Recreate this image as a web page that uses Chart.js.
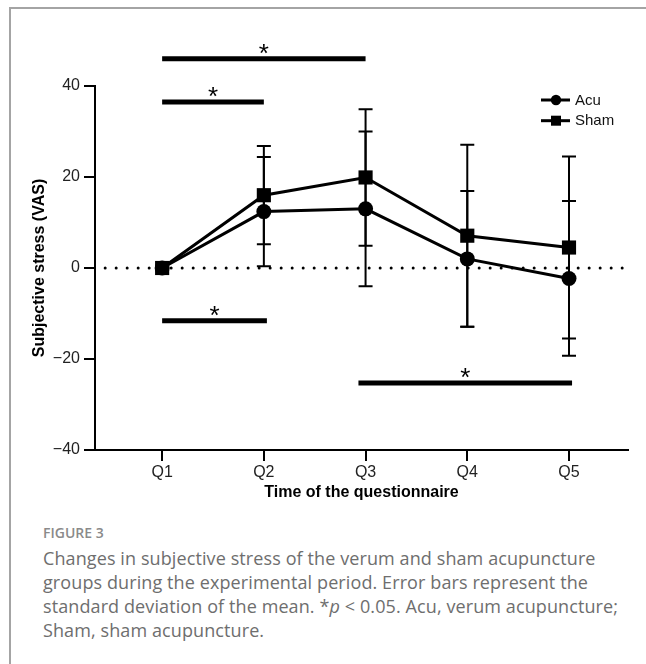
<!DOCTYPE html>
<html><head><meta charset="utf-8">
<script src="https://cdn.jsdelivr.net/npm/chart.js@4"></script>
<style>
html,body{margin:0;padding:0;background:#fff;}
body{width:646px;height:664px;position:relative;overflow:hidden;}
#frame{position:absolute;left:9px;top:7px;width:660px;height:680px;border-left:2px solid #a4a4a4;border-top:2px solid #a4a4a4;}
#wrap{position:absolute;left:0;top:0;width:646px;height:510px;}
.cap{position:absolute;left:43px;font-family:"Open Sans",sans-serif;color:#6e6e6e;white-space:nowrap;}
#fig{top:523px;font-size:14px;line-height:20px;font-weight:600;color:#8a8a8a;}
#txt{top:546px;font-size:18px;line-height:24px;letter-spacing:0.1px;}
</style></head>
<body>
<div id="frame"></div>
<div id="wrap"><canvas id="c" width="646" height="510"></canvas></div>
<div class="cap" id="fig">FIGURE 3</div>
<div class="cap" id="txt">Changes in subjective stress of the verum and sham acupuncture<br>groups during the experimental period. Error bars represent the<br>standard deviation of the mean. *<i>p</i> &lt; 0.05. Acu, verum acupuncture;<br>Sham, sham acupuncture.</div>
<script>
const categories = ['Q1','Q2','Q3','Q4','Q5'];
const xPositions = [1,2,3,4,5];
const acuMean = [0, 12.4, 13.0, 2.0, -2.3];
const acuSD = [0, 12.0, 17.0, 14.9, 17.0];
const shamMean = [0, 16.0, 19.9, 7.1, 4.5];
const shamSD = [0, 10.8, 15.0, 20.0, 20.0];
const yTicks = [-40,-20,0,20,40];
const yTickLabels = ['\u221240','\u221220','0','20','40'];
const sigStart = [1, 1, 1, 2.93];
const sigEnd = [3, 2, 2.03, 5.03];
const sigLevel = [46.0, 36.5, -11.6, -25.3];
const sigLabel = ['*','*','*','*'];
const zeroLineRange = [0.44, 5.57];
const seriesNames = ['Acu','Sham'];

const FONT = '"Liberation Sans", Arial, sans-serif';
const toPts = (xs, ys) => xs.map((x,i)=>({x:x, y:ys[i]}));

const datasets = [];
datasets.push({
  label:'zero', data:[{x:zeroLineRange[0],y:0},{x:zeroLineRange[1],y:0}],
  borderColor:'#000', borderWidth:3, borderDash:[0,11], borderCapStyle:'round',
  pointRadius:0, fill:false, order:5
});
sigStart.forEach((s,i)=>{
  datasets.push({label:'sig'+i, data:[{x:s,y:sigLevel[i]},{x:sigEnd[i],y:sigLevel[i]}],
    borderColor:'#000', borderWidth:5, borderCapStyle:'butt', pointRadius:0, clip:false, fill:false, order:4});
});
datasets.push({label:seriesNames[0], data:toPts(xPositions, acuMean), borderColor:'#000', backgroundColor:'#000',
  borderWidth:3, pointStyle:'circle', pointRadius:7.5, pointBackgroundColor:'#000', pointBorderWidth:0, order:1, sd:acuSD});
datasets.push({label:seriesNames[1], data:toPts(xPositions, shamMean), borderColor:'#000', backgroundColor:'#000',
  borderWidth:3, pointStyle:'rect', pointRadius:10, pointBackgroundColor:'#000', pointBorderWidth:0, order:2, sd:shamSD});

const overlay = {
  id:'overlay',
  beforeDatasetsDraw(chart){
    const ctx = chart.ctx, xs = chart.scales.x, ys = chart.scales.y;
    ctx.save();
    ctx.strokeStyle = '#000'; ctx.lineWidth = 2;
    chart.data.datasets.forEach(ds=>{
      if(!ds.sd) return;
      ds.data.forEach((p,i)=>{
        const sd = ds.sd[i]; if(!sd) return;
        const px = xs.getPixelForValue(p.x);
        const yt = ys.getPixelForValue(p.y+sd), yb = ys.getPixelForValue(p.y-sd);
        ctx.beginPath();
        ctx.moveTo(px, yt); ctx.lineTo(px, yb);
        ctx.moveTo(px-7, yt); ctx.lineTo(px+7, yt);
        ctx.moveTo(px-7, yb); ctx.lineTo(px+7, yb);
        ctx.stroke();
      });
    });
    ctx.restore();
  },
  afterDraw(chart){
    const ctx = chart.ctx, xs = chart.scales.x, ys = chart.scales.y, ca = chart.chartArea;
    ctx.save();
    // stars
    ctx.fillStyle = '#000';
    ctx.font = '26px ' + FONT;
    ctx.textAlign = 'center'; ctx.textBaseline = 'alphabetic';
    sigLabel.forEach((t,i)=>{
      const cx = xs.getPixelForValue((sigStart[i]+sigEnd[i])/2);
      const by = ys.getPixelForValue(sigLevel[i]);
      const m = ctx.measureText(t);
      const h = m.actualBoundingBoxAscent + m.actualBoundingBoxDescent;
      const centerTarget = by - 10;
      ctx.fillText(t, cx, centerTarget + m.actualBoundingBoxAscent - h/2);
    });
    // legend
    const lx0 = ca.right - 87, lx1 = ca.right - 58, mx = ca.right - 72;
    const rows = [ca.top + 14, ca.top + 34.7];
    ctx.strokeStyle = '#000'; ctx.lineWidth = 3;
    ctx.font = '15px ' + FONT; ctx.textAlign = 'left'; ctx.textBaseline = 'middle';
    seriesNames.forEach((n,i)=>{
      const y = rows[i];
      ctx.beginPath(); ctx.moveTo(lx0, y); ctx.lineTo(lx1, y); ctx.stroke();
      if(i===0){ ctx.beginPath(); ctx.arc(mx, y, 5.2, 0, Math.PI*2); ctx.fill(); }
      else { ctx.fillRect(mx-5, y-5, 10, 10); }
      ctx.fillStyle = '#111';
      ctx.fillText(n, ca.right - 53, y+0.5);
      ctx.fillStyle = '#000';
    });
    ctx.restore();
  }
};

new Chart(document.getElementById('c'), {
  type:'line',
  data:{datasets:datasets},
  options:{
    responsive:false, animation:false,
    layout:{padding:{left:0, top:86, right:18, bottom:0}},
    plugins:{legend:{display:false}, tooltip:{enabled:false}},
    scales:{
      x:{
        type:'linear', min:0.34, max:5.58,
        afterBuildTicks(s){ s.ticks = xPositions.map(v=>({value:v})); },
        afterFit(s){ s.height = 60; },
        ticks:{autoSkip:false, maxRotation:0, color:'#222', padding:2,
          font:{family:FONT, size:16},
          callback:(v,i)=>categories[i]},
        grid:{display:true, drawOnChartArea:false, drawTicks:true, tickLength:11, color:'#000', lineWidth:2},
        border:{display:true, color:'#000', width:2},
        title:{display:true, text:'Time of the questionnaire', color:'#000',
          font:{family:FONT, size:16, weight:'bold'}, padding:{top:0, bottom:8}}
      },
      y:{
        type:'linear', min:-40, max:40,
        afterBuildTicks(s){ s.ticks = yTicks.map(v=>({value:v})); },
        afterFit(s){ s.width = 95; },
        ticks:{color:'#222', padding:4, font:{family:FONT, size:16},
          callback:(v,i)=>yTickLabels[i]},
        grid:{display:true, drawOnChartArea:false, drawTicks:true, tickLength:11, color:'#000', lineWidth:2},
        border:{display:true, color:'#000', width:2},
        title:{display:true, text:'Subjective stress (VAS)', color:'#000',
          font:{family:FONT, size:16, weight:'bold'}, padding:{top:30, bottom:0}}
      }
    }
  },
  plugins:[overlay]
});
</script>
</body></html>
